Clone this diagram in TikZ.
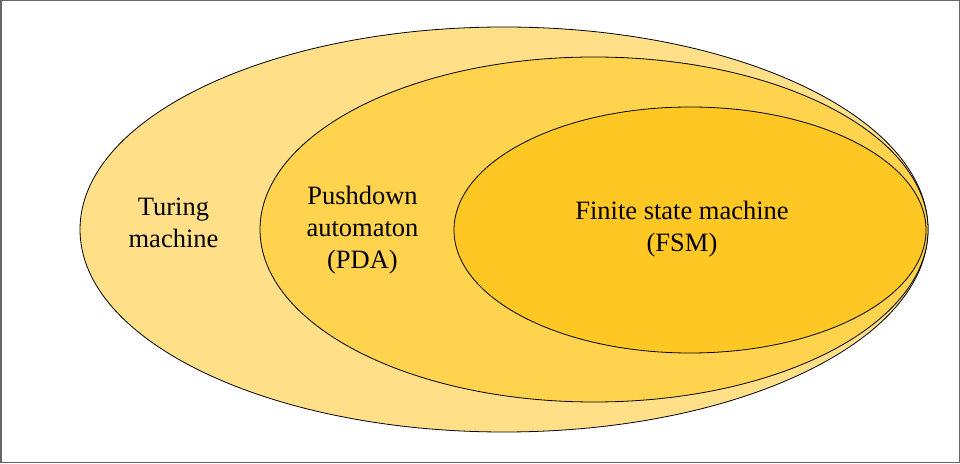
\documentclass[tikz,border=0pt]{standalone}
\usepackage{fontspec}
\setmainfont{Liberation Serif}
\usetikzlibrary{shapes.geometric}

\definecolor{tmfill}{RGB}{255,224,137}
\definecolor{pdafill}{RGB}{255,211,78}
\definecolor{fsmfill}{RGB}{255,199,36}

\begin{document}
\begin{tikzpicture}[
		x=1pt, y=1pt,
		set/.style={ellipse, draw=black, line width=0.8pt, inner sep=0pt},
		setlbl/.style={align=center, inner sep=0pt, font=\fontsize{26.5}{32}\selectfont}
		]
		
		% Frame
		\draw[gray!80!black, line width=1.5pt] (0.75,0.75) rectangle (959.25,462.25);
		\useasboundingbox (0,0) rectangle (960,463);
		
		% Nested classes of machines
		\node[set, fill=tmfill, minimum width=848, minimum height=405] (turing) at (504,233.5) {};
		\node[set, fill=pdafill, minimum width=668, minimum height=345] (pda) at (594,233.5) {};
		\node[set, fill=fsmfill, minimum width=472, minimum height=246] (fsm) at (690,233) {};
		
		% Labels
		\node[setlbl] (turinglbl) at (173.5,240) {Turing\\machine};
		\node[setlbl] (pdalbl) at (362.5,233) {Pushdown\\automaton\\(PDA)};
		\node[setlbl] (fsmlbl) at (682,234) {Finite state machine\\(FSM)};
		
	\end{tikzpicture}
\end{document}
